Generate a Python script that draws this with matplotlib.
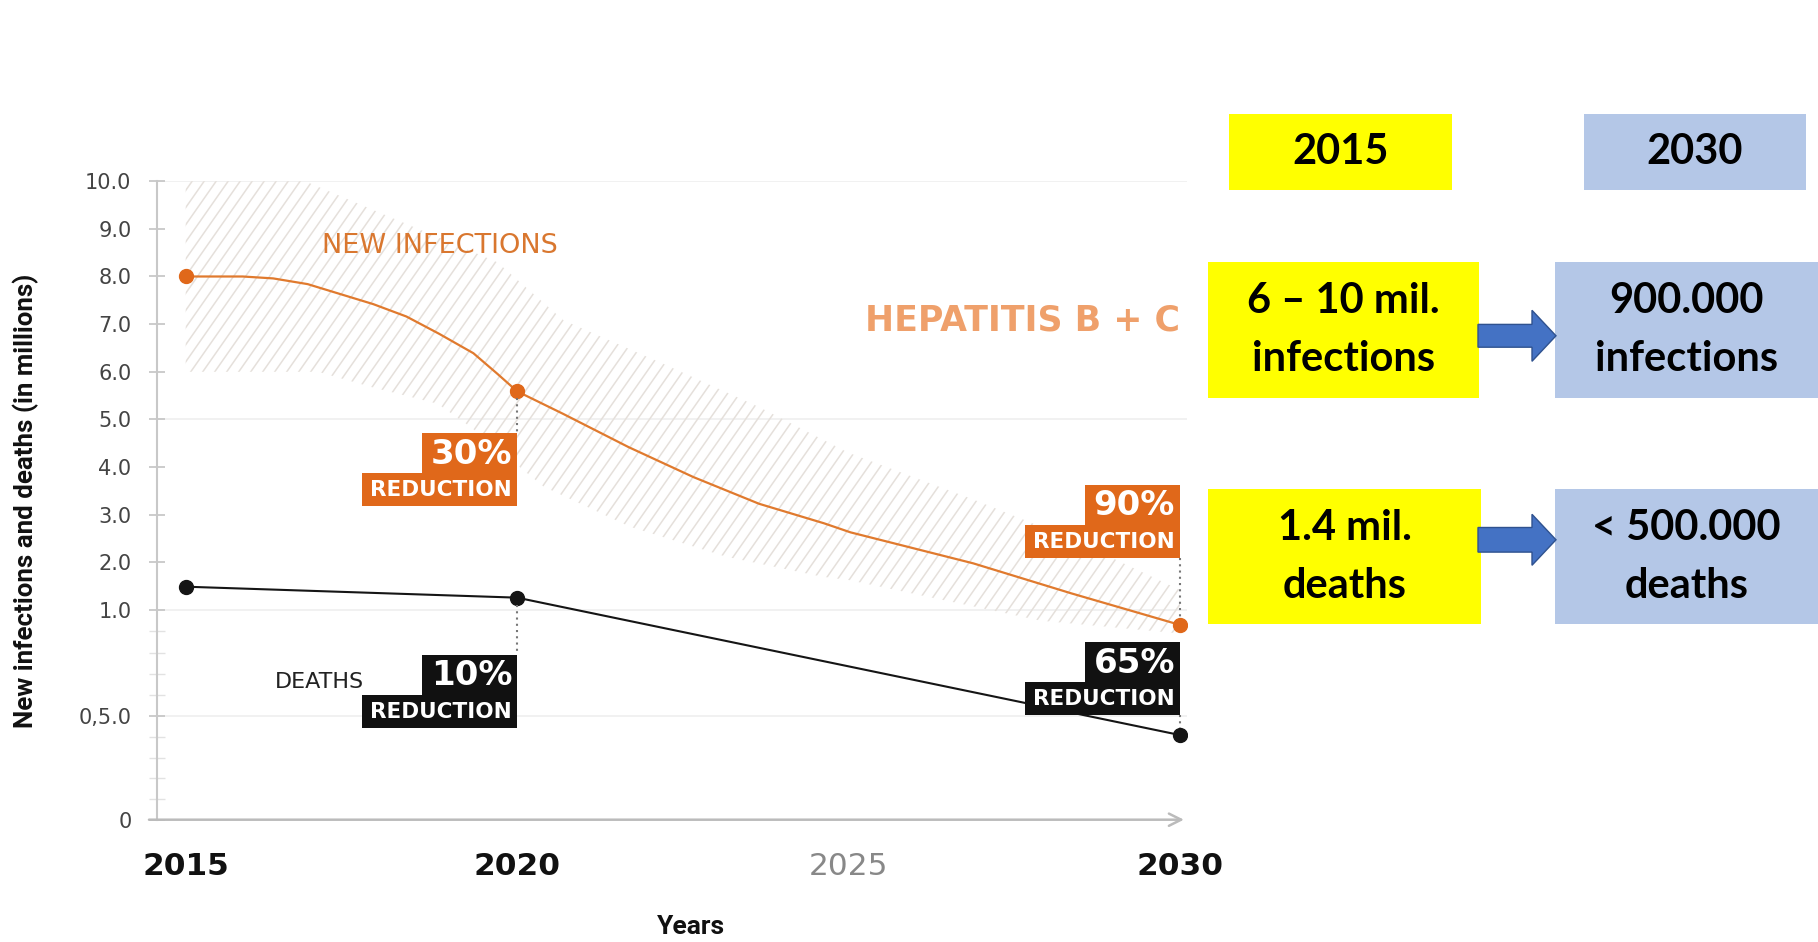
import numpy as np
import matplotlib
matplotlib.use('Agg')
import matplotlib.pyplot as plt
import matplotlib.patches as mpatches
import matplotlib.transforms as mtransforms
from matplotlib.lines import Line2D
from matplotlib.collections import LineCollection

W, H = 1818, 942

# key points (millions)
years = [2015, 2020, 2030]
infections = [8.0, 5.59, 0.93]
deaths = [1.49, 1.26, 0.41]

# infections curve
curve_years = [2015, 2015.86, 2016.32, 2016.84, 2017.83, 2018.33, 2018.82, 2019.34, 2019.7, 2020,
               2020.69, 2021.68, 2022.66, 2023.65, 2024.63, 2025.03, 2026.88, 2028.36, 2030]
curve_vals = [8.0, 8.0, 7.96, 7.84, 7.42, 7.16, 6.8, 6.39, 5.96, 5.59,
              5.12, 4.42, 3.79, 3.23, 2.82, 2.63, 1.98, 1.35, 0.93]

# hatched band round the infections curve
band_top_years = [2015, 2016.8, 2019.7, 2020.7, 2022.2, 2023.65, 2025.0, 2026.9, 2028.4, 2030]
band_top = [10.0, 10.0, 8.3, 7.08, 6.17, 5.26, 4.3, 3.31, 2.47, 1.42]
band_low_years = [2015, 2017.0, 2017.8, 2018.8, 2019.3, 2020.4, 2021.7, 2023.15, 2024.6, 2025.0, 2027.9, 2030]
band_low = [6.0, 6.0, 5.68, 5.33, 4.84, 3.59, 2.75, 2.12, 1.70, 1.63, 0.95, 0.89]

ytick_vals = [0, 0.5, 1, 2, 3, 4, 5, 6, 7, 8, 9, 10]
ytick_labels = ['0', '0,5.0', '1.0', '2.0', '3.0', '4.0', '5.0', '6.0', '7.0', '8.0', '9.0', '10.0']
yminor = [0.1, 0.2, 0.3, 0.4, 0.6, 0.7, 0.8, 0.9]
grid_levels = [0.5, 1, 5, 10]
xtick_vals = [2015, 2020, 2025, 2030]
xtick_labels = ['2015', '2020', '2025', '2030']

inf_reduction = {2020: '30%', 2030: '90%'}
death_reduction = {2020: '10%', 2030: '65%'}

panel_left = ['2015', '6 – 10 mil.\ninfections', '1.4 mil.\ndeaths']
panel_right = ['2030', '900.000\ninfections', '< 500.000\ndeaths']

orange = '#E0681A'
orange_line = '#E07A2E'
narrow = ['Roboto', 'DejaVu Sans']
calib = ['Lato', 'DejaVu Sans']

# y axis is stretched below 1.0
y_breaks = [-1, 0, 0.5, 1, 10, 11]
y_pos = [-4.33, 0, 2.166, 4.40, 13.40, 14.40]


def fwd(v):
    return np.interp(v, y_breaks, y_pos)


def inv(u):
    return np.interp(u, y_pos, y_breaks)


fig = plt.figure(figsize=(W / 100, H / 100), dpi=100)
px = mtransforms.Affine2D().scale(1 / W, -1 / H).translate(0, 1) + fig.transFigure

ax = fig.add_axes([156.5 / W, (H - 819.7) / H, (1186.7 - 156.5) / W, (819.7 - 181.2) / H])
ax.set_yscale('function', functions=(fwd, inv))
ax.set_xlim(2014.56, 2030.1)
ax.set_ylim(0, 10)

for s in ['top', 'right', 'bottom']:
    ax.spines[s].set_visible(False)
ax.spines['left'].set_color('#C8C8C8')
ax.spines['left'].set_linewidth(1.5)

ax.set_yticks(ytick_vals)
ax.set_yticklabels(ytick_labels)
ax.set_yticks(yminor, minor=True)
ax.tick_params(axis='y', which='major', direction='inout', length=12, width=1.2,
               color='#C4C4C4', labelsize=15, labelcolor='#444444', pad=12)
ax.tick_params(axis='y', which='minor', direction='inout', length=12, width=1.0,
               color='#E2E2E2')

ax.set_xticks(xtick_vals)
ax.set_xticklabels(xtick_labels)
ax.set_xticks([2020, 2025], minor=True)
ax.tick_params(axis='x', which='major', length=0, labelsize=22.5, pad=23)
ax.tick_params(axis='x', which='minor', direction='inout', length=13, width=1.2, color='#C4C4C4')
for lab, c, w in zip(ax.get_xticklabels(), ['#111', '#111', '#888', '#111'],
                     ['bold', 'bold', 'normal', 'bold']):
    lab.set_color(c)
    lab.set_fontweight(w)

ax.annotate('', xy=(1.0, 0), xytext=(-0.01, 0), xycoords='axes fraction',
            arrowprops=dict(arrowstyle='->', color='#BBBBBB', lw=1.8, mutation_scale=22),
            annotation_clip=False)

for g in grid_levels:
    ax.axhline(g, color='#EFEFEF', lw=1.2, zorder=0)

# hatch band: diagonal lines clipped to the band outline
band = ax.fill(band_top_years + band_low_years[::-1], band_top + band_low[::-1],
               facecolor='none', lw=0, zorder=1)[0]
offs = np.arange(-600, 1300, 12)
segs = [[(c, 850), (c + 490, 150)] for c in offs]
hatch = LineCollection(segs, colors='#E5E0DB', linewidths=1.1, transform=px, zorder=1)
ax.add_collection(hatch, autolim=False)
hatch.set_clip_path(band)

ax.plot(curve_years, curve_vals, color=orange_line, lw=1.6, zorder=3)
ax.plot(years, infections, 'o', color=orange, ms=10, zorder=4)
ax.plot(years, deaths, '-o', color='#151515', lw=1.5, ms=10, zorder=4)

ax.text(2017.06, 8.64, 'NEW INFECTIONS', color='#D9772F', fontsize=19.5,
        ha='left', va='center')
ax.text(2030.0, 7.08, 'HEPATITIS B + C', color='#EFA06B', fontsize=25,
        fontweight='bold', ha='right', va='center')
ax.text(2016.35, 0.664, 'DEATHS', color='#222222', fontsize=16, ha='left', va='center')


def reduction_box(year, val, pct, color, top_off):
    x, y = ax.transData.transform((year, val))
    y = H - y
    top = y + top_off
    fig.add_artist(mpatches.Rectangle((x - 95, top), 95, 40, transform=px,
                                      facecolor=color, edgecolor='none'))
    fig.add_artist(mpatches.Rectangle((x - 155, top + 40), 155, 33, transform=px,
                                      facecolor=color, edgecolor='none'))
    fig.text(x - 5, top + 21, pct, transform=px, ha='right', va='center',
             color='white', fontsize=24.5, fontweight='bold')
    fig.text(x - 5, top + 57, 'REDUCTION', transform=px, ha='right', va='center',
             color='white', fontsize=15.5, fontweight='bold')
    if top_off > 0:
        y0, y1 = y + 7, top
    else:
        y0, y1 = top + 73, y - 7
    fig.add_artist(Line2D([x, x], [y0, y1], transform=px, color='#777777',
                          lw=1.5, ls=(0, (1, 2))))


reduction_box(2020, infections[1], inf_reduction[2020], orange, 42)
reduction_box(2030, infections[2], inf_reduction[2030], orange, -140)
reduction_box(2020, deaths[1], death_reduction[2020], '#111111', 57)
reduction_box(2030, deaths[2], death_reduction[2030], '#111111', -93)

fig.text(25.5, 501, 'New infections and deaths (in millions)', transform=px,
         rotation=90, ha='center', va='center', fontsize=18.6, fontweight='bold',
         family=narrow, color='#111')
fig.text(691, 927, 'Years', transform=px, ha='center', va='center', fontsize=19,
         fontweight='bold', family=narrow, color='#111')

# right-hand comparison panel
yellow = '#FFFF00'
blue = '#B4C7E7'
rows = [(114, 76), (262, 136), (489, 135)]
left_x = [(1229, 223), (1208, 271), (1208, 273)]
right_x = [(1584, 222), (1555, 263), (1555, 263)]


def panel_box(x, y, w, h, color, label):
    fig.add_artist(mpatches.Rectangle((x, y), w, h, transform=px,
                                      facecolor=color, edgecolor='none'))
    lines = label.split('\n')
    cy = y + h / 2
    for i, line in enumerate(lines):
        off = (i - (len(lines) - 1) / 2) * 58
        fig.text(x + w / 2, cy + off, line, transform=px, ha='center', va='center',
                 fontsize=30, fontweight='bold', family=calib, color='black')


for (ry, rh), (lx, lw_), (rx, rw), lt, rt in zip(rows, left_x, right_x, panel_left, panel_right):
    panel_box(lx, ry, lw_, rh, yellow, lt)
    panel_box(rx, ry, rw, rh, blue, rt)

for cy, sh in [(335.8, 22.8), (539.8, 24.6)]:
    fig.add_artist(mpatches.FancyArrow(1478, cy, 78, 0, width=sh, head_width=51,
                                       head_length=24, length_includes_head=True,
                                       transform=px, facecolor='#4472C4',
                                       edgecolor='#2F528F', lw=1.0))

fig.savefig('out.png', dpi=100, facecolor='white')
